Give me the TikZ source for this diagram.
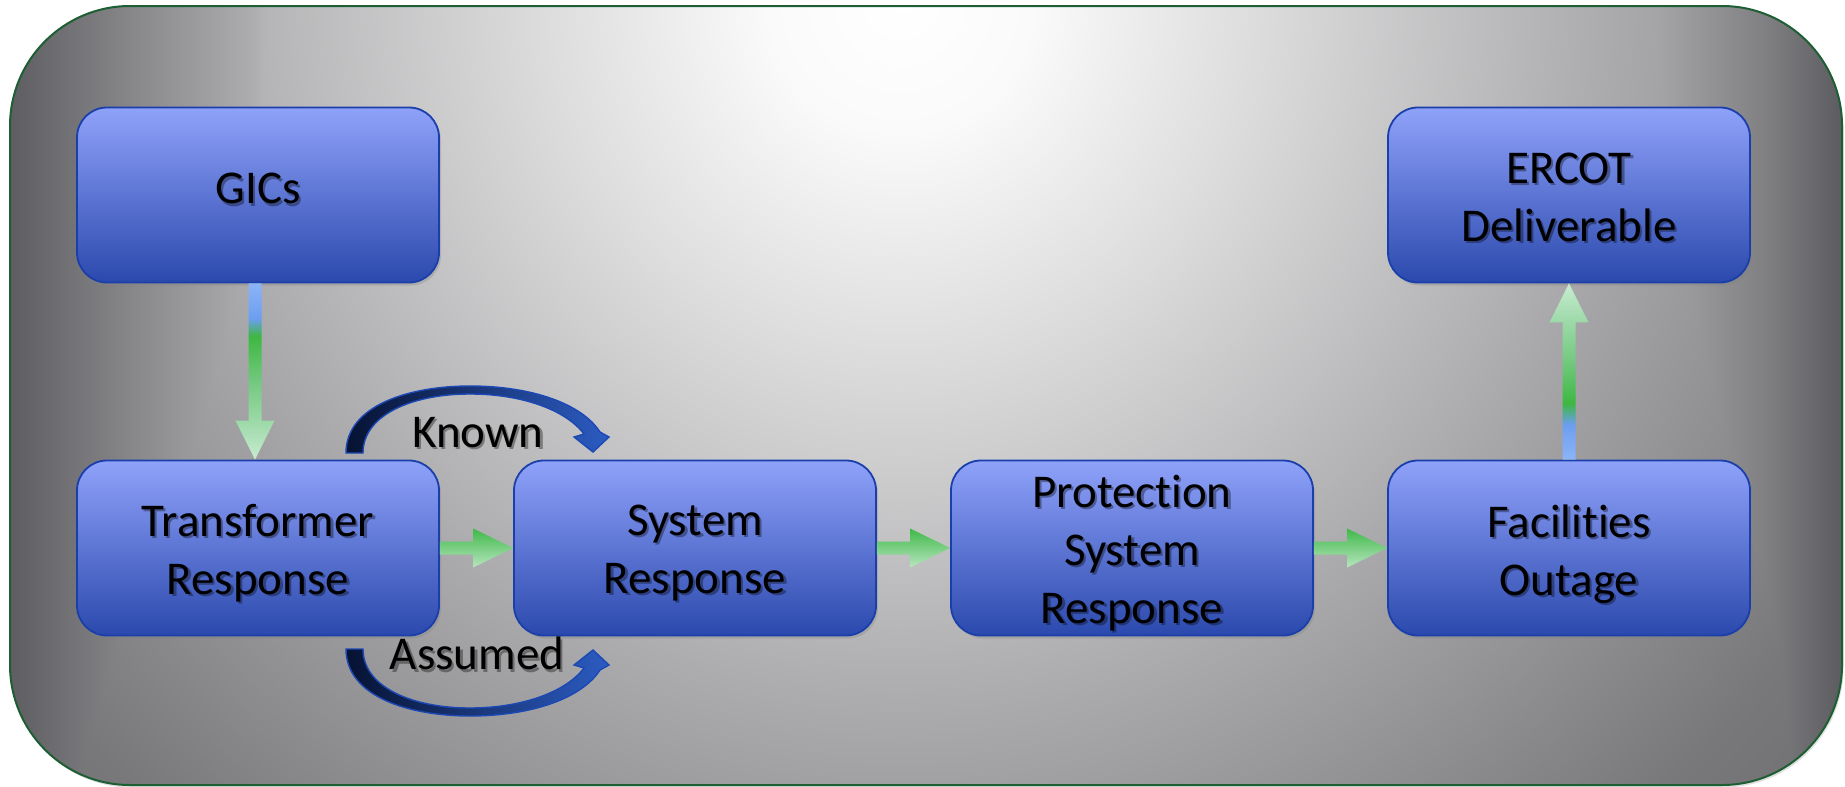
\documentclass[tikz,border=0pt]{standalone}
\usepackage{fontspec}
\setmainfont{Carlito}[Ligatures=NoCommon]
\usetikzlibrary{calc,shadows}

\definecolor{framegreen}{HTML}{1D5E33}
\definecolor{boxtop}{HTML}{8FA2FA}
\definecolor{boxbot}{HTML}{2B49AD}
\definecolor{boxline}{HTML}{1B3FAA}
\definecolor{flowgreen}{HTML}{3FB848}
\definecolor{flowpale}{HTML}{B8E6C0}
\definecolor{navydark}{HTML}{061232}
\definecolor{arcblue}{HTML}{2C5CC2}
\definecolor{arcline}{HTML}{1C48B6}
% colours along the vertical flow arrows
\definecolor{fblue}{HTML}{8CB4F8}
\definecolor{fbluedeep}{HTML}{6C9EF0}
\definecolor{fgreen}{HTML}{3DB841}
\definecolor{fmid}{HTML}{72C87E}
\definecolor{fhead}{HTML}{9CD9A8}
\definecolor{fpale}{HTML}{C8ECD0}
% panel greys
\definecolor{rA}{RGB}{250,250,250}
\definecolor{rB}{RGB}{221,221,222}
\definecolor{rC}{RGB}{170,170,172}
\definecolor{rD}{RGB}{120,120,123}
\definecolor{rE}{RGB}{100,100,104}
\definecolor{gA}{RGB}{94,94,98}
\definecolor{gB}{RGB}{138,138,141}
\definecolor{gC}{RGB}{172,172,174}
\definecolor{gH}{RGB}{128,128,131}
\definecolor{gG}{RGB}{168,168,170}
\definecolor{gI}{RGB}{92,92,96}

% glow from the top of the panel
\pgfdeclareradialshading{panelr}{\pgfpoint{0bp}{0bp}}{color(0bp)=(white); color(3bp)=(rA); color(8bp)=(rB); color(16.25bp)=(rC); color(25bp)=(rD); color(32.5bp)=(rE); color(50bp)=(rE)}
% darkening along the left and right sides
\pgfdeclarehorizontalshading{panelh}{100bp}{color(0bp)=(gA); color(25bp)=(gA); color(28.55bp)=(gB); color(31.55bp)=(gC); color(35.64bp)=(white); color(64.3bp)=(white); color(69.68bp)=(gG); color(72.9bp)=(gH); color(75bp)=(gI); color(100bp)=(gI)}
% blue tail, green body, pale tip
\pgfdeclareverticalshading{downflow}{100bp}{color(0bp)=(fpale); color(25bp)=(fpale); color(36bp)=(fhead); color(47.5bp)=(fmid); color(60bp)=(fgreen); color(65bp)=(fbluedeep); color(75bp)=(fblue); color(100bp)=(fblue)}
\pgfdeclareverticalshading{upflow}{100bp}{color(0bp)=(fblue); color(25bp)=(fblue); color(35bp)=(fbluedeep); color(41bp)=(fgreen); color(52.5bp)=(fmid); color(64bp)=(fhead); color(75bp)=(fpale); color(100bp)=(fpale)}

\tikzset{
  flowbox/.style={rectangle, rounded corners=30pt, minimum width=362pt, minimum height=175pt,
    inner sep=0pt, draw=boxline, line width=1.8pt, top color=boxtop, bottom color=boxbot,
    drop shadow={shadow xshift=2pt, shadow yshift=-3pt, opacity=0.3}},
  lbl/.style={font=\fontsize{47}{58}\selectfont, align=center, text=black, inner sep=0pt,
    execute at begin node={\rule{0pt}{45pt}}, execute at end node={\rule[-14pt]{0pt}{14pt}}},
  lblshade/.style={lbl, text opacity=0.35},
  hflow/.style={top color=flowgreen, bottom color=flowpale},
  arcarrow/.style={left color=navydark, right color=arcblue, draw=arcline, line width=1.4pt},
  panel/.style={rounded corners=120pt},
}

% text with a soft shadow, centred on a box
\newcommand\boxlabel[4]{%
  \node[lblshade] (#1s) at ($(#2.center)+(2.2,#3+2.6)$) {#4};
  \node[lbl] (#1) at ($(#2.center)+(0,#3)$) {#4};
}
% text with a soft shadow at a free position
\newcommand\freelabel[4]{%
  \node[lblshade] (#1s) at (#2+2.2,#3+2.6) {#4};
  \node[lbl] (#1) at (#2,#3) {#4};
}
% block arrow from the east side of one box to the west side of the next
\newcommand\hflowarrow[2]{%
  \shade[hflow] let \p1=(#1.east), \p2=(#2.west) in
    (\x1,\y1+6.5pt) -- (\x2-40pt,\y1+6.5pt) -- (\x2-40pt,\y1+19.5pt) -- (\x2,\y1)
    -- (\x2-40pt,\y1-19.5pt) -- (\x2-40pt,\y1-6.5pt) -- (\x1,\y1-6.5pt) -- cycle;
}

\begin{document}
\begin{tikzpicture}[x=1pt,y=-1pt]
\useasboundingbox (0,0) rectangle (1845,787);

% panel
\path[panel, fill=gA, drop shadow={shadow xshift=1.5pt, shadow yshift=-2.5pt, opacity=0.25}]
  (10,6) rectangle (1842,785);
\begin{scope}
  \clip[panel] (10,6) rectangle (1842,785);
  \shade[shading=panelr] (-200,-1100) rectangle (2000,1100);
  \begin{scope}[blend mode=darken]
    \shade[shading=panelh] (10,6) rectangle (1842,785);
  \end{scope}
\end{scope}
\draw[panel, framegreen, line width=2pt] (10,6) rectangle (1842,785);

% boxes
\node[flowbox] (gics)  at (258,195)  {};
\node[flowbox] (ercot) at (1569,195) {};
\node[flowbox] (trans) at (258,548)  {};
\node[flowbox] (sys)   at (695,548)  {};
\node[flowbox] (prot)  at (1132,548) {};
\node[flowbox] (fac)   at (1569,548) {};

\boxlabel{gicsT}{gics}{-7}{GICs}
\boxlabel{ercotT}{ercot}{9}{ERCOT\\Deliverable}
\boxlabel{transT}{trans}{8}{Transformer\\Response}
\boxlabel{sysT}{sys}{8}{System\\Response}
\boxlabel{protT}{prot}{8}{Protection\\System\\Response}
\boxlabel{facT}{fac}{9}{Facilities\\Outage}

% flow arrows
\shade[shading=downflow] let \p1=($(gics.south)+(-3,0)$), \p2=(trans.north) in
  (\x1-6.5pt,\y1) -- (\x1+6.5pt,\y1) -- (\x1+6.5pt,\y2+39pt) -- (\x1+19.5pt,\y2+39pt)
  -- (\x1,\y2) -- (\x1-19.5pt,\y2+39pt) -- (\x1-6.5pt,\y2+39pt) -- cycle;
\shade[shading=upflow] let \p1=(fac.north), \p2=(ercot.south) in
  (\x1-6.5pt,\y1) -- (\x1+6.5pt,\y1) -- (\x1+6.5pt,\y2-39pt) -- (\x1+19.5pt,\y2-39pt)
  -- (\x1,\y2) -- (\x1-19.5pt,\y2-39pt) -- (\x1-6.5pt,\y2-39pt) -- cycle;
\hflowarrow{trans}{sys}
\hflowarrow{sys}{prot}
\hflowarrow{prot}{fac}

% curved arrows over and under the first link
\shade[arcarrow] (346,453) .. controls (346,405) and (410,386) .. (470,386)
  .. controls (532,386) and (582,404) .. (600,432) -- (609,437) -- (593,452) -- (574,437)
  -- (584,434) .. controls (566,410) and (522,394) .. (470,394)
  .. controls (412,394) and (363,415) .. (363,453) -- cycle;
\shade[arcarrow] (346,649) .. controls (346,697) and (410,716) .. (470,716)
  .. controls (532,716) and (582,698) .. (600,670) -- (609,665) -- (593,650) -- (574,665)
  -- (584,668) .. controls (566,692) and (522,708) .. (470,708)
  .. controls (412,708) and (363,687) .. (363,649) -- cycle;

\freelabel{known}{478}{431.5}{Known}
\freelabel{assumed}{477}{654}{Assumed}
\end{tikzpicture}
\end{document}
